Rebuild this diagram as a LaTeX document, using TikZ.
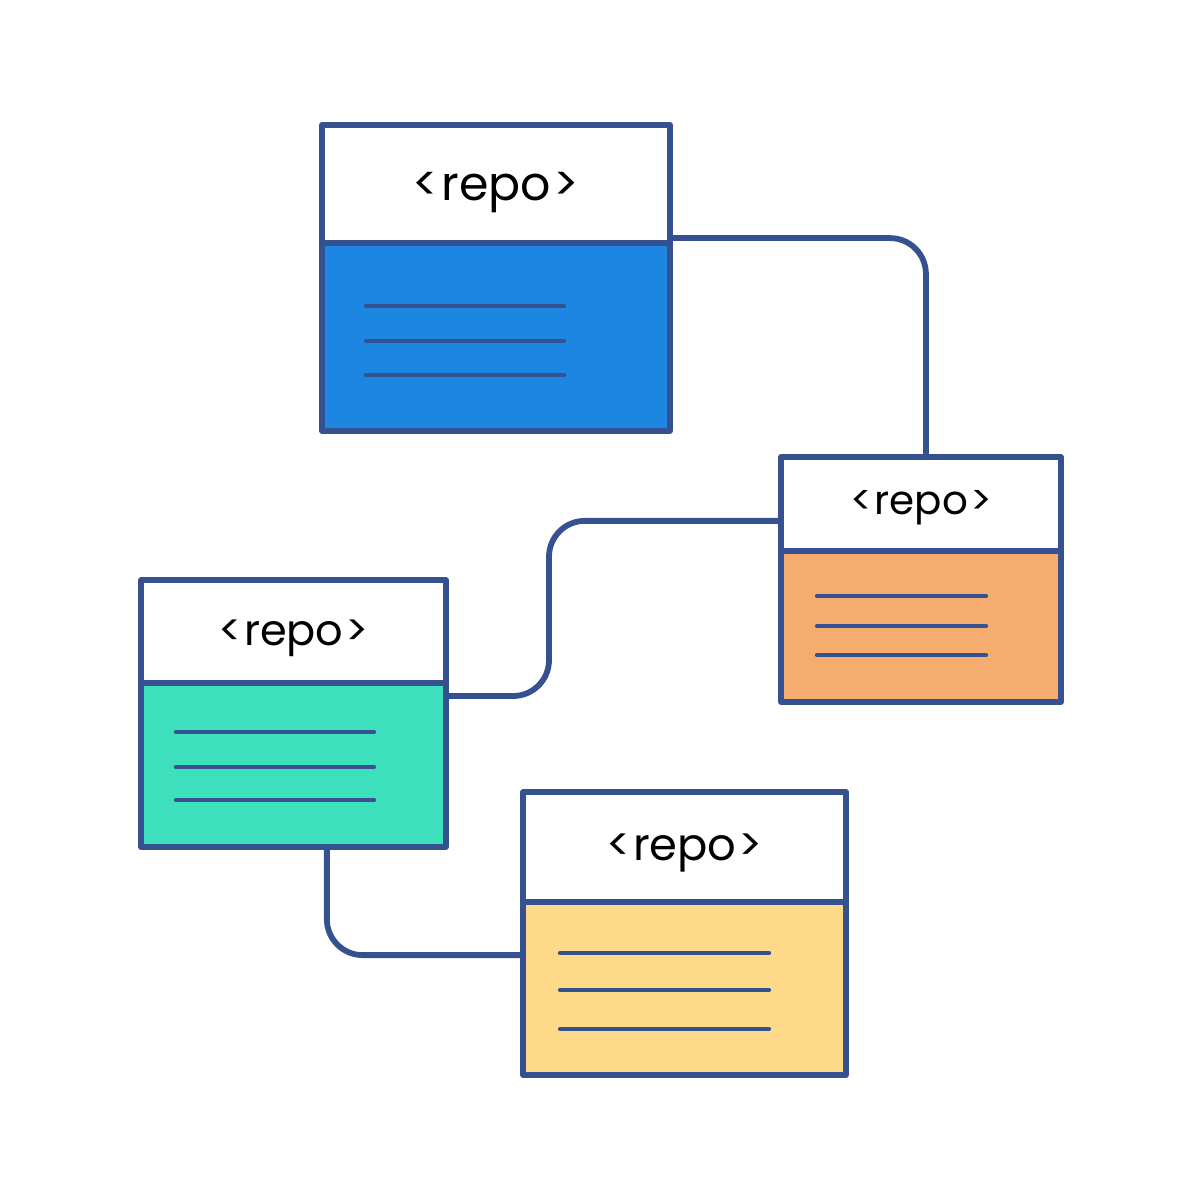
\documentclass[tikz,border=0pt]{standalone}
\usepackage{fontspec}
\setmainfont{Poppins}
\definecolor{repoline}{HTML}{36518F}
\definecolor{repoblue}{HTML}{1D86E3}
\definecolor{repoorange}{HTML}{F7AC6F}
\definecolor{repogreen}{HTML}{3DDFBD}
\definecolor{repoyellow}{HTML}{FFD98A}
\newcommand{\repolabel}{<\kern.05em repo\kern.05em>}
\tikzset{
  repohead/.style={draw=repoline,fill=white,line width=2.9pt,line join=round,inner sep=0pt,outer sep=0pt,text=black,text depth=0pt},
  repobody/.style={draw=repoline,line width=2.9pt,line join=round,inner sep=0pt,outer sep=0pt},
  textline/.style={draw=repoline,line width=2.5pt,line cap=round},
  link/.style={draw=repoline,line width=3.3pt,rounded corners=20.4pt}
}
\begin{document}
\begin{tikzpicture}[x=.02cm,y=-.02cm]
  \useasboundingbox (0,0) rectangle (1201,1200);
  \foreach \nm/\l/\r/\t/\m/\b/\col/\fs/\hgt in
      {A/322/670/125/243/431/repoblue/27/19.1,
       B/781/1061/457/551/702/repoorange/23/12,
       C/141/446/580/683/847/repogreen/24.5/16.3,
       D/523/846/792/902/1075/repoyellow/25.5/15.9}
  {
    \node[repohead,text height=\hgt pt,minimum width={(\r-\l)*.02cm},minimum height={(\m-\t)*.02cm}]
      (head\nm) at ({(\l+\r)/2},{(\t+\m)/2}) {\fontsize{\fs}{\fs}\selectfont \repolabel};
    \node[repobody,fill=\col,minimum width={(\r-\l)*.02cm},minimum height={(\b-\m)*.02cm}]
      (body\nm) at ({(\l+\r)/2},{(\m+\b)/2}) {};
  }
  \foreach \y in {306,341,375}
    \draw[textline] (366,\y) -- (564,\y);
  \foreach \y in {596,626,655}
    \draw[textline] (817,\y) -- (986,\y);
  \foreach \y in {732,767,800}
    \draw[textline] (176,\y) -- (374,\y);
  \foreach \y in {953,990,1029}
    \draw[textline] (560,\y) -- (769,\y);
  \coordinate (bendBC) at (549,608);
  \draw[link] ([yshift=2.8pt]headA.south east) -| ([xshift=2.8pt]headB.north);
  \draw[link] ([yshift=-9.6pt]headB.west) -| (bendBC) |- ([yshift=-7.4pt]bodyC.north east);
  \draw[link] ([xshift=19pt]bodyC.south) |- ([yshift=19pt]bodyD.west);
\end{tikzpicture}
\end{document}
